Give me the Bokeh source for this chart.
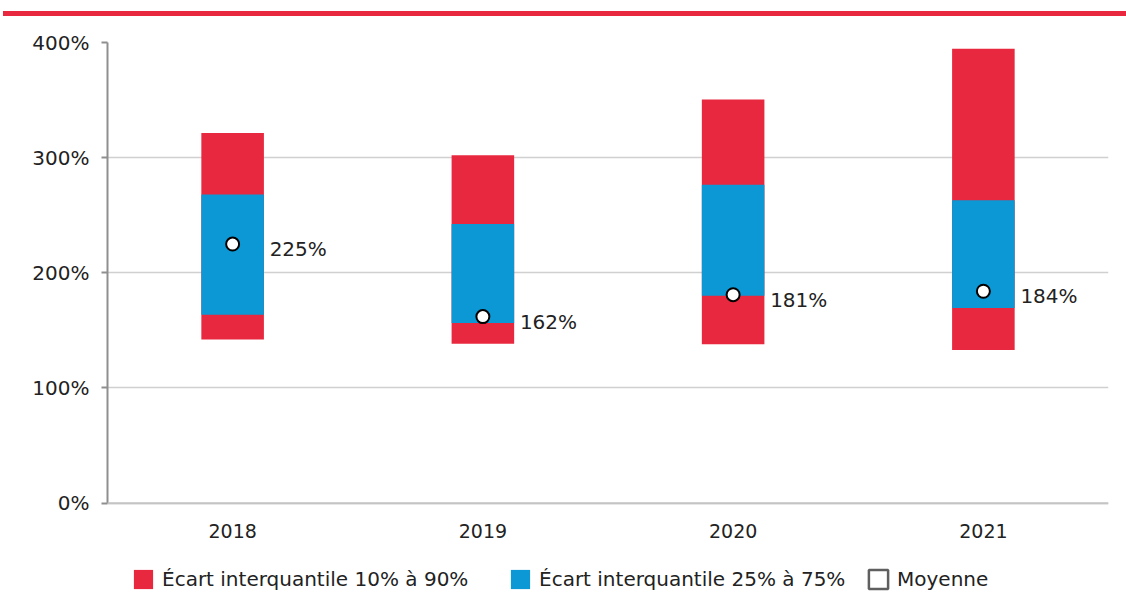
from bokeh.plotting import figure
from bokeh.models import (FactorRange, Range1d, FixedTicker, Legend, LegendItem, Div,
                          ColumnDataSource, Span)
from bokeh.layouts import column
from bokeh.core.properties import value
from bokeh.embed import file_html
from bokeh.resources import INLINE

# ---- data ----
years = ["2018", "2019", "2020", "2021"]
p10 = [142, 138.5, 138, 133]
p90 = [321.5, 302, 350.5, 394.5]
p25 = [163.5, 156.5, 180, 169.5]
p75 = [268, 242.5, 276.5, 263]
mean = [225, 162, 181, 184]
mean_labels = ["225%", "162%", "181%", "184%"]
y_ticks = [0, 100, 200, 300, 400]
y_tick_labels = ["0%", "100%", "200%", "300%", "400%"]
legend_labels = ["Écart interquantile 10% à 90%", "Écart interquantile 25% à 75%", "Moyenne"]

RED = "#E8283F"
BLUE = "#0B98D5"
FONT = "DejaVu Sans"
TXT = "#222222"

src = ColumnDataSource(dict(year=years, p10=p10, p90=p90, p25=p25, p75=p75,
                            mean=mean, lab=mean_labels, base=[0] * len(years)))

# frame extends below the 0% line to host the category labels and legend
p = figure(width=1118, height=579, x_range=FactorRange(*years, range_padding=0),
           y_range=Range1d(-80.2, 400), output_backend="svg", toolbar_location=None,
           min_border_left=107, min_border_right=10, min_border_top=26, min_border_bottom=0)
p.outline_line_color = None
p.background_fill_color = "white"
p.xaxis.visible = False

p.ygrid.ticker = FixedTicker(ticks=y_ticks)
p.ygrid.grid_line_color = "#d0d0d0"
p.ygrid.grid_line_width = 1.5
p.xgrid.grid_line_color = None

# baseline (x axis line)
p.add_layout(Span(location=0, dimension="width", line_color="#c4c4c4", line_width=2))

r_red = p.vbar(x="year", bottom="p10", top="p90", width=0.25, source=src,
               fill_color=RED, line_color=None)
r_blue = p.vbar(x="year", bottom="p25", top="p75", width=0.25, source=src,
                fill_color=BLUE, line_color=None)
r_mean = p.scatter(x="year", y="mean", source=src, marker="circle", size=13,
                   fill_color="white", line_color="black", line_width=2)
p.text(x="year", y="mean", text="lab", source=src, x_offset=37, y_offset=5,
       text_baseline="middle", text_align="left", text_font=value(FONT),
       text_font_size="20px", text_color=TXT)

# category labels under the baseline
p.text(x="year", y="base", text="year", source=src, y_offset=28,
       text_baseline="middle", text_align="center", text_font=value(FONT),
       text_font_size="19px", text_color=TXT)

# invisible-data renderer used only for the "Moyenne" legend glyph
nan = float("nan")
r_dummy = p.quad(left=[nan], right=[nan], bottom=[nan], top=[nan], fill_color="white",
                 line_color="#5f5f5f", line_width=2.5)

# y axis
p.yaxis.ticker = FixedTicker(ticks=y_ticks)
p.yaxis.major_label_overrides = {t: l for t, l in zip(y_ticks, y_tick_labels)}
p.yaxis.bounds = (0, 400)
p.yaxis.axis_line_color = "#8f8f8f"
p.yaxis.axis_line_width = 2
p.yaxis.major_tick_line_color = "#8f8f8f"
p.yaxis.major_tick_line_width = 2
p.yaxis.major_tick_out = 6
p.yaxis.major_tick_in = 0
p.yaxis.minor_tick_line_color = None
p.yaxis.major_label_standoff = 12
p.yaxis.major_label_text_font_size = "20px"
p.yaxis.major_label_text_font = FONT
p.yaxis.major_label_text_color = TXT

# legends (one per item, placed individually)
for rend, lab, xloc in [(r_red, legend_labels[0], 24), (r_blue, legend_labels[1], 401),
                        (r_dummy, legend_labels[2], 759)]:
    lg = Legend(items=[LegendItem(label=lab, renderers=[rend])], location=(xloc, 4),
                orientation="horizontal", padding=0, margin=0, spacing=0,
                glyph_width=24, glyph_height=24, label_height=24, label_standoff=7,
                border_line_color=None, background_fill_alpha=0,
                label_text_font=FONT, label_text_font_size="20px", label_text_color=TXT)
    p.add_layout(lg, "center")

bar = Div(width=1123, height=5, margin=(11, 0, 0, 3),
          styles={"background-color": RED})

layout = column(bar, p, spacing=0)
open("out.html", "w").write(file_html(layout, INLINE))
